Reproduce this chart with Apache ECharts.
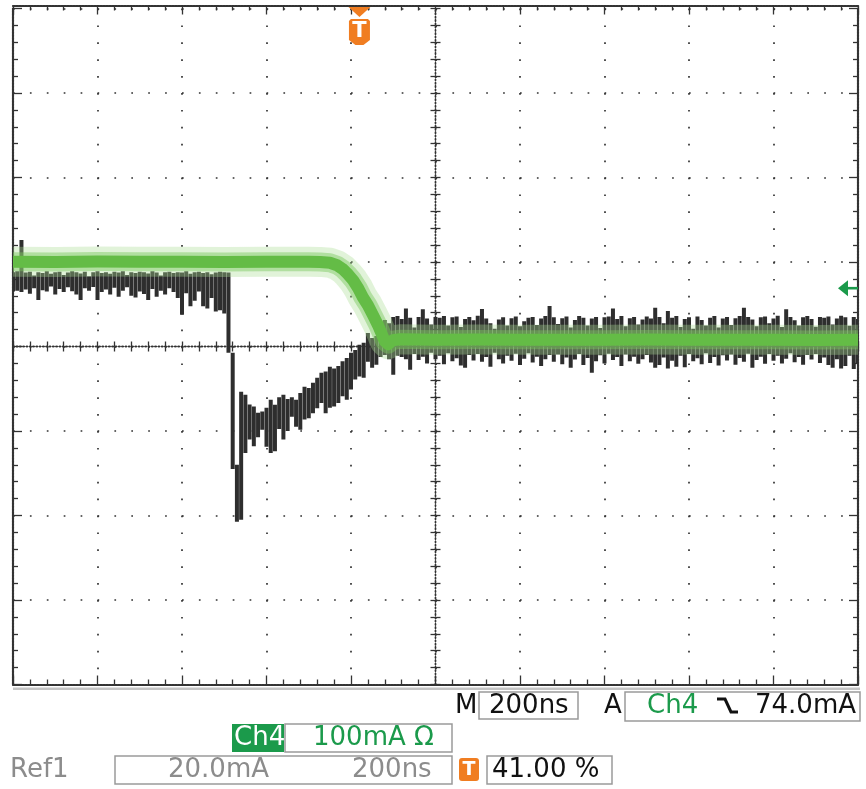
<!DOCTYPE html>
<html><head><meta charset="utf-8">
<script src="https://cdn.jsdelivr.net/npm/echarts@6/dist/echarts.min.js"></script>
<style>html,body{margin:0;padding:0;background:#fff}#c{width:866px;height:789px}</style>
</head><body><div id="c"></div>
<script>
// ---- Scales (time in ns relative to graticule centre, 10 div x 200 ns) ----
const TIME_MIN = -1000, TIME_MAX = 1000, TIME_DIV = 200;
const TRIGGER_POS_PCT = 41;          // trigger position, % of record
const TRIGGER_LEVEL_MA = 74.0;       // Ch4 trigger level
const REF1_MIN = -80, REF1_MAX = 80, REF1_DIV = 20;   // Ref1: 20.0 mA/div
const CH4_MIN = -395, CH4_MAX = 405;                  // Ch4: 100 mA/div

// ---- Ch4 (green, live) ----
const ch4Time = [-1000,-900,-800,-700,-600,-500,-400,-300,-273,-250,-233,-219,-207,-195,-183,-172,-160,-148,-136,-127,-120,-112,-101,-84,0,100,200,300,400,500,600,700,800,900,1000];
const ch4Value = [105.3,105.0,105.5,105.2,105.4,105.1,105.3,105.2,105.1,104.1,101.2,96.5,90.5,83.4,74.0,63.3,53.9,42.1,30.2,19.5,11.2,7.7,12.4,13.6,13.0,13.2,12.9,13.1,13.0,13.2,12.9,13.1,13.0,12.8,13.0];

// ---- Ref1 (black, peak-detect columns: 10 ns per column from TIME_MIN) ----
const REF1_T0 = -1000, REF1_DT = 10;
const ref1Hi = [
17.6,17.8,25.2,17.5,17.7,16.8,17.6,17.4,17.8,17.2,
17.6,17.7,16.9,17.5,17.8,17.6,17.3,17.7,16.6,17.6,
17.8,17.4,17.6,17.2,17.7,17.5,17.8,16.9,17.6,17.4,
17.7,17.6,17.3,17.8,17.5,16.8,17.6,17.7,17.4,17.6,
17.5,17.8,17.2,17.6,17.7,17.4,17.6,17.1,17.5,17.7,
17.6,17.5,-1.5,-28.0,-10.7,-11.4,-13.7,-14.2,-15.7,-15.4,
-14.5,-12.6,-13.8,-12.0,-11.4,-12.4,-12.0,-12.6,-11.0,-9.5,
-9.8,-8.6,-7.4,-6.2,-5.9,-4.8,-5.2,-4.6,-3.5,-2.7,
-1.5,-0.8,0.4,0.9,3.2,2.0,2.5,4.0,6.3,5.5,
7.0,7.2,6.5,9.0,6.8,4.5,7.0,8.8,6.6,5.2,
7.0,6.8,7.2,5.0,6.9,7.1,4.6,6.5,7.0,6.2,
7.3,8.9,6.6,5.5,4.2,6.4,6.9,5.0,6.7,7.1,
4.8,6.0,6.8,7.0,5.1,6.6,7.2,9.6,6.9,5.3,
6.7,7.1,4.5,6.3,7.2,6.8,5.0,6.6,7.0,4.4,
6.9,7.1,9.0,6.5,7.2,4.8,6.7,7.0,5.2,6.4,
7.1,6.6,9.2,7.0,5.5,8.4,6.8,7.2,4.6,6.5,
6.9,4.2,7.1,6.3,5.0,6.8,7.2,4.5,6.6,7.0,
5.1,6.7,7.2,9.2,7.0,6.4,4.8,6.9,7.1,5.5,
6.6,7.3,4.6,8.8,7.0,6.2,5.0,6.9,7.2,6.5,
4.7,7.0,6.8,7.1,5.2,6.6,7.3,6.9,4.9,7.0,
6.5];
const ref1Lo = [
13.0,13.2,12.9,13.5,12.5,13.8,11.0,13.3,13.0,14.2,
12.3,13.6,12.9,14.0,13.1,12.3,11.0,13.8,13.2,14.1,
11.0,12.9,13.5,12.3,13.9,11.8,13.2,14.0,12.0,11.6,
13.0,12.4,11.0,13.6,11.8,13.2,12.3,13.8,12.9,11.5,
7.5,12.6,9.5,10.8,13.0,9.5,9.0,11.5,8.3,8.6,
7.8,-1.5,-29.0,-41.5,-41.0,-25.2,-22.0,-23.6,-21.5,-19.7,
-23.7,-25.2,-24.8,-19.5,-22.0,-20.0,-16.6,-19.0,-19.7,-17.3,
-17.0,-15.8,-14.6,-13.4,-15.8,-14.5,-14.2,-13.4,-11.8,-12.6,
-10.2,-7.8,-7.1,-7.4,-3.6,-5.0,-4.3,-2.5,-2.0,-3.0,
-6.7,-2.2,-2.5,-3.0,-5.5,-1.8,-3.2,-2.4,-4.0,-1.5,
-3.0,-2.2,-4.2,-1.6,-3.5,-2.8,-4.5,-5.0,-2.0,-3.3,
-1.8,-3.6,-2.5,-4.8,-1.5,-3.0,-4.0,-2.2,-3.4,-1.7,
-4.4,-2.9,-1.6,-3.8,-2.4,-4.6,-3.0,-2.0,-3.6,-1.9,
-4.2,-2.6,-5.0,-3.1,-1.8,-4.4,-2.7,-6.2,-3.5,-2.1,
-4.0,-1.7,-3.2,-2.5,-4.6,-1.9,-3.5,-2.4,-4.1,-3.0,
-2.0,-3.8,-5.0,-4.4,-2.6,-5.2,-3.4,-4.8,-2.2,-4.9,
-1.8,-3.5,-2.8,-4.2,-1.6,-3.9,-2.5,-4.5,-2.1,-3.3,
-1.9,-4.3,-2.7,-3.6,-1.7,-5.0,-3.2,-2.4,-4.1,-1.8,
-3.4,-2.2,-4.0,-2.9,-1.6,-3.7,-2.5,-4.3,-2.0,-3.1,
-1.8,-3.9,-2.6,-4.4,-5.0,-3.0,-5.2,-4.6,-2.2,-5.3,
-4.0];

// ---- Readout texts ----
const readoutTimebase = '200ns';
const readoutTrigSrc = 'Ch4';
const readoutTrigLevel = '74.0mA';
const readoutCh4Label = 'Ch4';
const readoutCh4Scale = '100mA \u03A9';
const readoutRefLabel = 'Ref1';
const readoutRefScale = '20.0mA';
const readoutRefTime = '200ns';
const readoutTrigPos = '41.00 %';

// ---- Build series data ----
const ch4Data = ch4Time.map((t, i) => [t, ch4Value[i]]);
const ref1Data = ref1Hi.map((hi, i) => [REF1_T0 + i * REF1_DT, hi, ref1Lo[i]]);

const DARK = '#333';
const dotGrid = { color: '#333', width: 1.7, type: [1.7, 15.2] };
const borderLine = { color: DARK, width: 2.2, type: [2, 1] };
const centerLine = { color: DARK, width: 1.4, type: [1.4, 1.9] };
const tickStyle = { color: DARK, width: 1.3 };

function xAx(o) {
  return Object.assign({
    type: 'value', min: TIME_MIN, max: TIME_MAX, interval: TIME_DIV,
    axisLabel: { show: false }, splitLine: { show: false },
    axisTick: { show: true, inside: true, length: 9, lineStyle: tickStyle },
    minorTick: { show: true, splitNumber: 5, length: 5, lineStyle: tickStyle }
  }, o);
}
function yAx(o) {
  return Object.assign({
    type: 'value', min: REF1_MIN, max: REF1_MAX, interval: REF1_DIV,
    axisLabel: { show: false }, splitLine: { show: false },
    axisTick: { show: true, inside: true, length: 9, lineStyle: tickStyle },
    minorTick: { show: true, splitNumber: 5, length: 5, lineStyle: tickStyle }
  }, o);
}
const cTick = { show: true, inside: true, length: 5, lineStyle: tickStyle };
const cMinor = { show: true, splitNumber: 5, length: 5, lineStyle: tickStyle };

function renderRefColumn(params, api) {
  const t = api.value(0);
  const pHi = api.coord([t, api.value(1)]);
  const pLo = api.coord([t, api.value(2)]);
  const top = Math.min(pHi[1], pLo[1]);
  const h = Math.max(1.5, Math.abs(pLo[1] - pHi[1]));
  return { type: 'rect', shape: { x: pHi[0] - 2, y: top, width: 4.0, height: h },
           style: { fill: '#2e2e2e' } };
}

const chart = echarts.init(document.getElementById('c'), null, { renderer: 'canvas' });
chart.setOption({
  animation: false,
  backgroundColor: '#fff',
  grid: { left: 13, top: 8.5, width: 845, height: 676 },
  xAxis: [
    xAx({ position: 'bottom', axisLine: { onZero: false, lineStyle: borderLine }, splitLine: { show: true, lineStyle: dotGrid } }),
    xAx({ position: 'top', offset: 3, axisLine: { onZero: false, lineStyle: borderLine } }),
    xAx({ position: 'bottom', axisLine: { onZero: true, onZeroAxisIndex: 0, lineStyle: centerLine }, axisTick: cTick, minorTick: cMinor }),
    xAx({ position: 'top', axisLine: { onZero: true, onZeroAxisIndex: 0, lineStyle: centerLine }, axisTick: cTick, minorTick: cMinor })
  ],
  yAxis: [
    yAx({ position: 'left', axisLine: { onZero: false, lineStyle: borderLine }, splitLine: { show: true, lineStyle: dotGrid } }),
    { type: 'value', min: CH4_MIN, max: CH4_MAX, show: false },
    yAx({ position: 'right', axisLine: { onZero: false, lineStyle: borderLine } }),
    yAx({ position: 'left', axisLine: { onZero: true, onZeroAxisIndex: 0, lineStyle: centerLine }, axisTick: cTick, minorTick: cMinor }),
    yAx({ position: 'right', axisLine: { onZero: true, onZeroAxisIndex: 0, lineStyle: centerLine }, axisTick: cTick, minorTick: cMinor })
  ],
  series: [
    { name: 'Ref1', type: 'custom', xAxisIndex: 0, yAxisIndex: 0, data: ref1Data, z: 2,
      encode: { x: 0, y: [1, 2] }, renderItem: renderRefColumn, clip: true },
    { name: 'Ch4 halo', type: 'line', xAxisIndex: 0, yAxisIndex: 1, data: ch4Data, symbol: 'none', z: 3,
      lineStyle: { color: 'rgba(170,220,145,0.35)', width: 30, join: 'round' } },
    { name: 'Ch4 mid', type: 'line', xAxisIndex: 0, yAxisIndex: 1, data: ch4Data, symbol: 'none', z: 4,
      lineStyle: { color: 'rgba(120,200,90,0.45)', width: 19, join: 'round' } },
    { name: 'Ch4', type: 'line', xAxisIndex: 0, yAxisIndex: 1, data: ch4Data, symbol: 'none', z: 5,
      lineStyle: { color: '#64bc46', width: 12, join: 'round' } }
  ]
});

// ---- Indicators and readouts ----
const FONT = '"DejaVu Sans", Verdana, sans-serif';
const GREEN = '#1b9a4b', ORANGE = '#f07d21', GRAY = '#8c8c8c', BOX = '#9a9a9a';
function txt(s, x, y, fill, size, weight, align) {
  return { type: 'text', silent: true, z: 100, style: {
    text: s, x: x, y: y, fill: fill, fontSize: size || 26, fontFamily: FONT, fontWeight: weight || 'normal',
    align: align || 'left', verticalAlign: 'middle', textAlign: align || 'left', textVerticalAlign: 'middle' } };
}
function box(x, y, w, h, fill, stroke) {
  return { type: 'rect', silent: true, z: 90, shape: { x: x, y: y, width: w, height: h },
    style: { fill: fill || 'none', stroke: stroke || null, lineWidth: 1.5 } };
}
const tTime = TIME_MIN + (TIME_MAX - TIME_MIN) * TRIGGER_POS_PCT / 100;
const tx = chart.convertToPixel({ xAxisIndex: 0 }, tTime);
const ty = chart.convertToPixel({ yAxisIndex: 1 }, TRIGGER_LEVEL_MA);
const gRight = 858;

const g = [
  // trigger position marker
  { type: 'polygon', silent: true, z: 100, shape: { points: [[tx - 11, 7], [tx + 11, 7], [tx, 17]] }, style: { fill: ORANGE } },
  { type: 'polygon', silent: true, z: 100, shape: { points: [[tx - 10.5, 21], [tx - 8.5, 19], [tx + 8.5, 19], [tx + 10.5, 21], [tx + 10.5, 40], [tx + 4, 45], [tx - 4, 45], [tx - 10.5, 40]] }, style: { fill: ORANGE } },
  txt('T', tx, 32, '#fff', 21, 'bold', 'center'),
  // trigger level arrow
  { type: 'polygon', silent: true, z: 100, shape: { points: [[gRight - 20, ty], [gRight - 10, ty - 8], [gRight - 10, ty + 8]] }, style: { fill: GREEN } },
  box(gRight - 11, ty - 1.3, 11, 2.6, GREEN),
  // shadow below graticule
  box(13, 687.5, 847, 2.5, '#c4c4c4'),
  // row 1
  txt('M', 455, 706, '#111'),
  box(479, 692, 99, 27, null, BOX),
  txt(readoutTimebase, 489, 706, '#111'),
  txt('A', 604, 706, '#111'),
  box(625, 692, 235, 29, null, BOX),
  txt(readoutTrigSrc, 647, 706, GREEN),
  { type: 'polyline', silent: true, z: 100, shape: { points: [[717, 699], [725, 699], [731, 712], [738, 712]] }, style: { stroke: '#111', lineWidth: 3, fill: null } },
  txt(readoutTrigLevel, 755, 706, '#111'),
  // row 2
  box(232, 724, 52, 28, GREEN),
  txt(readoutCh4Label, 234, 738, '#fff'),
  box(285, 724, 167, 28, null, BOX),
  txt(readoutCh4Scale, 313, 738, GREEN),
  // row 3
  txt(readoutRefLabel, 10, 770, GRAY),
  box(115, 756, 337, 28, null, BOX),
  txt(readoutRefScale, 168, 770, GRAY),
  txt(readoutRefTime, 352, 770, GRAY),
  { type: 'rect', silent: true, z: 95, shape: { x: 459, y: 758, width: 20, height: 23, r: 3 }, style: { fill: ORANGE } },
  txt('T', 469, 770, '#fff', 19, 'bold', 'center'),
  box(487, 756, 125, 28, null, BOX),
  txt(readoutTrigPos, 492, 770, '#111')
];
chart.setOption({ graphic: g });
</script>
</body></html>
